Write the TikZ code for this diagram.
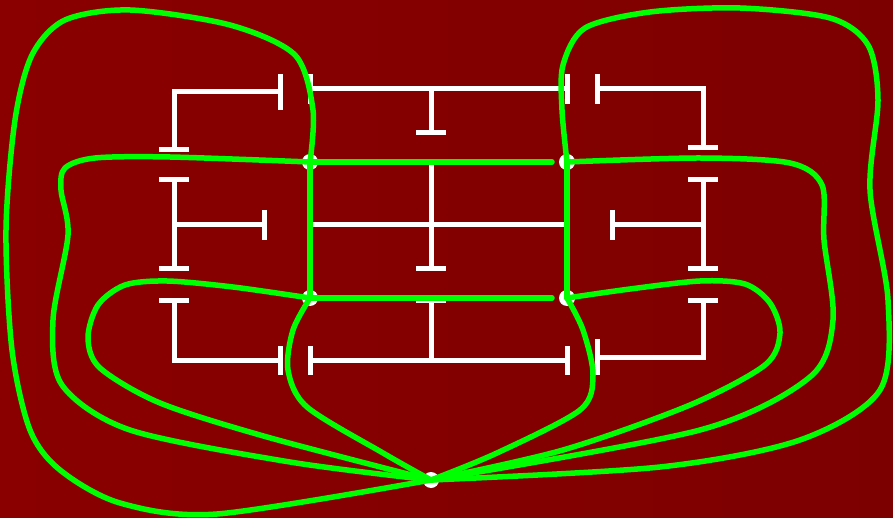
\documentclass[tikz,border=0pt]{standalone}
\begin{document}
\begin{tikzpicture}
% Floor plan with its dual graph, in pixel units
\def\pxsz{1pt}
\definecolor{planbgleft}{RGB}{138,0,0}
\definecolor{planbgright}{RGB}{125,0,0}
\definecolor{planedge}{RGB}{0,255,0}
\providecommand{\planWallColor}{white}
\providecommand{\planEdgeColor}{planedge}
\providecommand{\planWallWidth}{5pt}
\providecommand{\planEdgeWidth}{5.5pt}
\providecommand{\planDotRadius}{8}
\begin{scope}[x=\pxsz, y=-\pxsz]
  \useasboundingbox (0,0) rectangle (893,518);
  % Background
  \shade[left color=planbgleft, right color=planbgright] (0,0) rectangle (893,518);
  % Vertices of the dual graph
  \coordinate (tl) at (310,162);
  \coordinate (tr) at (567,162);
  \coordinate (bl) at (310,298);
  \coordinate (br) at (567,298);
  \coordinate (bot) at (431,480);
  % Walls
  \begin{scope}[draw=\planWallColor, line width=\planWallWidth, line join=miter]
    % top row
    \draw (174,150) -- (174,92) -- (280,92);
    \draw (159,150) -- (189,150);
    \draw (280,74) -- (280,110);
    \draw (310,89) -- (567,89);
    \draw (310,74) -- (310,104);
    \draw (567,74) -- (567,104);
    \draw (431,89) -- (431,133);
    \draw (416,133) -- (446,133);
    \draw (597,89) -- (703,89) -- (703,148);
    \draw (597,74) -- (597,104);
    \draw (688,148) -- (718,148);
    % middle row
    \draw (174,180) -- (174,269);
    \draw (159,180) -- (189,180);
    \draw (159,269) -- (189,269);
    \draw (174,225) -- (264,225);
    \draw (264,210) -- (264,240);
    \draw (310,225) -- (567,225);
    \draw (310,210) -- (310,240);
    \draw (567,210) -- (567,240);
    \draw (431,162) -- (431,269);
    \draw (416,162) -- (446,162);
    \draw (416,269) -- (446,269);
    \draw (612,225) -- (703,225);
    \draw (612,210) -- (612,240);
    \draw (703,180) -- (703,269);
    \draw (688,180) -- (718,180);
    \draw (688,269) -- (718,269);
    % bottom row
    \draw (174,300) -- (174,360) -- (280,360);
    \draw (159,300) -- (189,300);
    \draw (280,346) -- (280,375);
    \draw (310,360) -- (567,360);
    \draw (310,346) -- (310,375);
    \draw (567,346) -- (567,375);
    \draw (431,300) -- (431,360);
    \draw (416,300) -- (446,300);
    \draw (597,357) -- (703,357) -- (703,300);
    \draw (597,339) -- (597,375);
    \draw (688,300) -- (718,300);
  \end{scope}
  % Vertex dots
  \foreach \v in {tl,tr,bl,br,bot}
    \fill[\planWallColor] (\v) circle[radius=\planDotRadius];
  % Edges
  \begin{scope}[draw=\planEdgeColor, line width=\planEdgeWidth, line cap=round, line join=round]
    \draw (tl) -- ([xshift=-15pt]tr);
    \draw (bl) -- ([xshift=-15pt]br);
    \draw (tl) -- (bl);
    \draw (tr) -- (br);
    % left side
    \draw plot[smooth] coordinates {(tl) (313,110) (295,55) (230,25) (130,10) (65,20) (32,55) (15,120) (6,230) (12,350) (30,430) (60,470) (120,503) (217,514) (bot)};
    \draw plot[smooth] coordinates {(tl) (170,157) (95,158) (65,168) (61,190) (68,235) (53,320) (62,385) (130,430) (290,462) (bot)};
    \draw plot[smooth] coordinates {(bl) (233,287) (167,281) (125,285) (98,305) (88,338) (100,368) (160,403) (267,437) (bot)};
    \draw plot[smooth] coordinates {(bl) (293,330) (288,370) (307,407) (383,453) (bot)};
    % right side
    \draw plot[smooth] coordinates {(tr) (562,110) (563,65) (585,28) (650,12) (740,8) (830,18) (868,45) (878,100) (870,190) (888,300) (880,390) (800,440) (660,467) (bot)};
    \draw plot[smooth] coordinates {(tr) (700,158) (790,163) (822,185) (824,240) (833,320) (810,377) (700,430) (bot)};
    \draw plot[smooth] coordinates {(br) (630,289) (700,281) (745,284) (770,303) (780,333) (765,365) (690,405) (563,450) (bot)};
    \draw plot[smooth] coordinates {(br) (583,330) (593,375) (580,410) (497,453) (bot)};
  \end{scope}
\end{scope}
\end{tikzpicture}
\end{document}
